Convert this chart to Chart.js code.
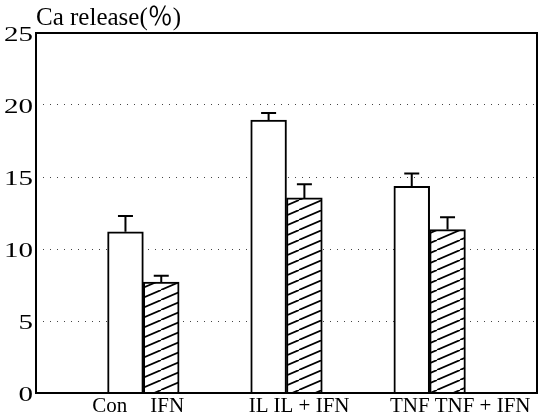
<!DOCTYPE html>
<html>
<head>
<meta charset="utf-8">
<script src="https://cdn.jsdelivr.net/npm/chart.js@4/dist/chart.umd.min.js"></script>
<style>
  html, body { margin: 0; padding: 0; background: #fff; }
  #wrap { width: 545px; height: 417px; }
</style>
</head>
<body>
<div id="wrap"><canvas id="chart" width="545" height="417"></canvas></div>
<script>
// treatment groups, each drawn as a pair: alone / with IFN
const categories = ['Con', 'IFN', 'IL', 'IL + IFN', 'TNF', 'TNF + IFN'];
const releaseValues = [11.2, 7.7, 18.95, 13.55, 14.35, 11.35];
const releaseErrors = [1.1, 0.45, 0.5, 0.95, 0.9, 0.85];
const hatched = [false, true, false, true, false, true];
const yTicks = [0, 5, 10, 15, 20, 25];
const yTitle = 'Ca release(％)';

// label nudges (px) from the edge between the two bars of a pair
const labelShift = [-16, 7, -18, -13, 0, 5];

// spread the bars over 14 slots: 2 empty slots around each pair
const slotLabels = [];
const slotValues = [];
const slotErrors = [];
const slotHatch = [];
const slotCat = [];
function addEmpty() { slotLabels.push(''); slotValues.push(null); slotErrors.push(null); slotHatch.push(false); slotCat.push(-1); }
for (let i = 0; i < categories.length; i += 2) {
    addEmpty(); addEmpty();
    for (let j = i; j < i + 2; j++) {
        slotLabels.push(categories[j]);
        slotValues.push(releaseValues[j]);
        slotErrors.push(releaseErrors[j]);
        slotHatch.push(hatched[j]);
        slotCat.push(j);
    }
}
addEmpty(); addEmpty();

function makeHatch() {
    const w = 23, h = 10;
    const c = document.createElement('canvas');
    c.width = w; c.height = h;
    const g = c.getContext('2d');
    g.fillStyle = '#fff';
    g.fillRect(0, 0, w, h);
    g.strokeStyle = '#000';
    g.lineWidth = 1.7;
    for (let k = -1; k <= 1; k++) {
        g.beginPath();
        g.moveTo(k * w, h);
        g.lineTo(k * w + w, 0);
        g.stroke();
    }
    return g.createPattern(c, 'repeat');
}
const hatch = makeHatch();

const serif = '"Liberation Serif", "Noto Sans CJK JP", serif';

// error bars (upper only)
const errorBars = {
    id: 'errorBars',
    afterDatasetsDraw(chart) {
        const ctx = chart.ctx;
        const meta = chart.getDatasetMeta(0);
        const y = chart.scales.y;
        ctx.save();
        ctx.strokeStyle = '#000';
        ctx.lineWidth = 2;
        meta.data.forEach((bar, i) => {
            if (slotValues[i] == null) return;
            const x = bar.x;
            const top = y.getPixelForValue(slotValues[i]);
            const end = y.getPixelForValue(slotValues[i] + slotErrors[i]);
            ctx.beginPath();
            ctx.moveTo(x, top);
            ctx.lineTo(x, end);
            ctx.moveTo(x - 7.5, end);
            ctx.lineTo(x + 7.5, end);
            ctx.stroke();
        });
        ctx.restore();
    }
};

// frame, title, tick labels
const frame = {
    id: 'frame',
    afterDraw(chart) {
        const ctx = chart.ctx;
        const a = chart.chartArea;
        const y = chart.scales.y;
        const meta = chart.getDatasetMeta(0);
        ctx.save();
        ctx.strokeStyle = '#000';
        ctx.lineWidth = 2;
        ctx.strokeRect(a.left, a.top, a.right - a.left, a.bottom - a.top);
        ctx.fillStyle = '#000';

        ctx.font = '25px ' + serif;
        ctx.textAlign = 'left';
        ctx.textBaseline = 'alphabetic';
        ctx.fillText(yTitle, a.left, a.top - 8);

        // y tick labels, a little wide like the original typeface
        ctx.font = '20px ' + serif;
        ctx.textAlign = 'right';
        ctx.textBaseline = 'middle';
        yTicks.forEach(v => {
            const py = y.getPixelForValue(v) + 3;
            ctx.save();
            ctx.translate(a.left - 3, py);
            ctx.scale(1.45, 1);
            ctx.fillText(String(v), 0, 0);
            ctx.restore();
        });

        // x labels: first of a pair ends near the pair middle, second starts there
        ctx.font = '21px ' + serif;
        ctx.textBaseline = 'alphabetic';
        meta.data.forEach((bar, i) => {
            const c = slotCat[i];
            if (c < 0) return;
            const first = c % 2 === 0;
            const edge = first ? bar.x + bar.width / 2 : bar.x - bar.width / 2;
            ctx.textAlign = first ? 'right' : 'left';
            ctx.fillText(categories[c], edge + labelShift[c], a.bottom + 19);
        });
        ctx.restore();
    }
};

new Chart(document.getElementById('chart'), {
    type: 'bar',
    data: {
        labels: slotLabels,
        datasets: [{
            data: slotValues,
            backgroundColor: slotHatch.map(h => h ? hatch : '#fff'),
            borderColor: '#000',
            borderWidth: 2,
            borderSkipped: 'bottom',
            barPercentage: 1,
            categoryPercentage: 1
        }]
    },
    options: {
        responsive: false,
        animation: false,
        layout: { padding: { top: 33, right: 8, left: 0, bottom: 0 } },
        plugins: {
            legend: { display: false },
            tooltip: { enabled: false }
        },
        scales: {
            x: {
                grid: { display: false, drawTicks: false },
                border: { display: false },
                ticks: { display: false },
                afterFit: s => { s.height = 24; }
            },
            y: {
                min: 0,
                max: 25,
                afterBuildTicks: s => { s.ticks = yTicks.map(v => ({ value: v })); },
                grid: {
                    color: '#444',
                    lineWidth: 1,
                    drawTicks: false
                },
                border: { display: false, dash: [1, 6] },
                ticks: { display: false },
                afterFit: s => { s.width = 36; }
            }
        }
    },
    plugins: [errorBars, frame]
});
</script>
</body>
</html>
